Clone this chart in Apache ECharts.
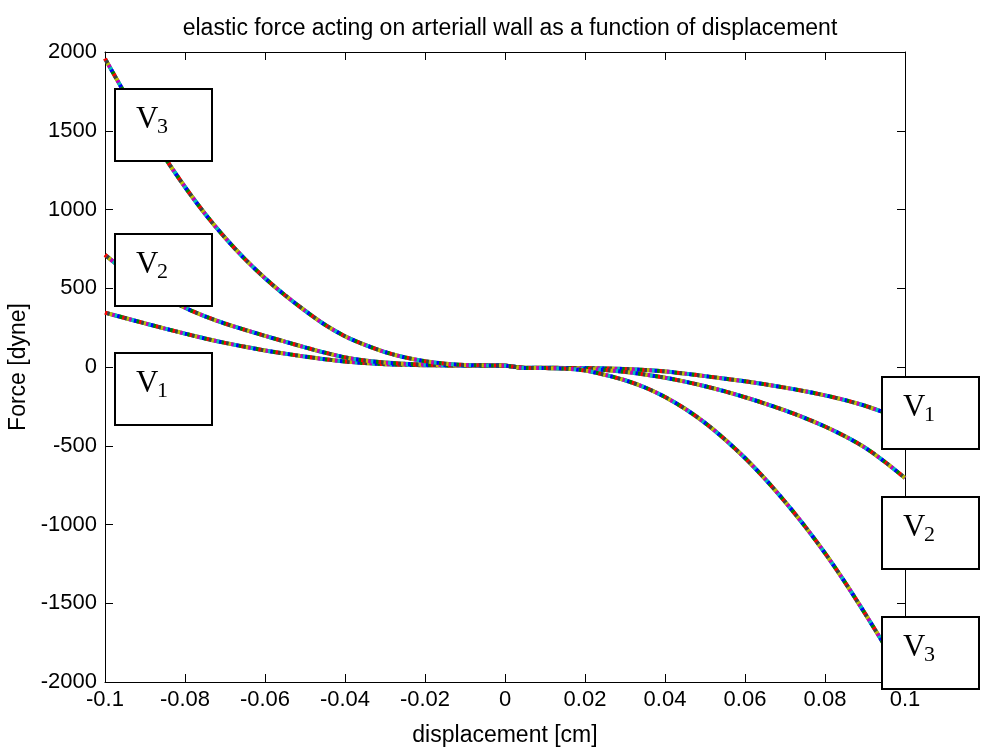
<!DOCTYPE html>
<html>
<head>
<meta charset="utf-8">
<script src="https://cdn.jsdelivr.net/npm/echarts@6/dist/echarts.min.js"></script>
<style>
html,body{margin:0;padding:0;background:#fff;}
#chart{width:981px;height:751px;}
</style>
</head>
<body>
<div id="chart"></div>
<script>
// ---- data ----
const titleText = 'elastic force acting on arteriall wall as a function of displacement';
const xName = 'displacement [cm]';
const yName = 'Force [dyne]';
const displacement = [-0.100, -0.095, -0.090, -0.085, -0.080, -0.075, -0.070, -0.065, -0.060, -0.055,
  -0.050, -0.045, -0.040, -0.035, -0.030, -0.025, -0.020, -0.015, -0.010, -0.005,
  0.000, 0.005, 0.010, 0.015, 0.020, 0.025, 0.030, 0.035, 0.040, 0.045,
  0.050, 0.055, 0.060, 0.065, 0.070, 0.075, 0.080, 0.085, 0.090, 0.095, 0.100];
const forceV1 = [345, 311, 277, 244, 212, 181, 153, 128, 105, 85,
  66, 49, 35, 25, 18, 14, 11, 10, 9, 9,
  8, -5, -5, -6, -7, -9, -13, -19, -28, -42,
  -58, -74, -91, -110, -131, -154, -180, -210, -246, -290, -333];
const forceV2 = [712, 610, 520, 442, 376, 322, 276, 236, 198, 161,
  125, 91, 61, 41, 28, 20, 15, 12, 11, 10,
  8, -6, -6, -8, -12, -19, -31, -48, -68, -93,
  -122, -155, -192, -232, -276, -324, -378, -440, -512, -603, -705];
const forceV3 = [1958, 1736, 1526, 1328, 1143, 973, 821, 685, 564, 456,
  358, 268, 195, 140, 95, 61, 37, 21, 13, 10,
  8, -6, -7, -10, -22, -50, -84, -130, -190, -265,
  -355, -460, -578, -710, -855, -1012, -1182, -1367, -1565, -1772, -1990];
const xTicks = {min: -0.1, max: 0.1, interval: 0.02};
const yTicks = {min: -2000, max: 2000, interval: 500};
const boxLabels = [
  {main: 'V', sub: '3', side: 'left', slot: 0},
  {main: 'V', sub: '2', side: 'left', slot: 1},
  {main: 'V', sub: '1', side: 'left', slot: 2},
  {main: 'V', sub: '1', side: 'right', slot: 0},
  {main: 'V', sub: '2', side: 'right', slot: 1},
  {main: 'V', sub: '3', side: 'right', slot: 2}
];

// ---- styling ----
const sans = '"Liberation Sans", Arial, Helvetica, sans-serif';
const serif = '"Liberation Serif", "Times New Roman", serif';
const dotColors = ['#ff0000', '#008000', '#0000ff', '#00bfbf', '#bf00bf', '#bfbf00', '#404040'];
const dash = 2.5, period = dash * dotColors.length;

const chart = echarts.init(document.getElementById('chart'), null, {renderer: 'canvas'});

function pairs(ys) { return displacement.map((x, i) => [x, ys[i]]); }
const curves = [forceV1, forceV2, forceV3];
const series = [];
curves.forEach(ys => {
  const d = pairs(ys);
  series.push({
    type: 'line', data: d, symbol: 'none', smooth: 0.3,
    lineStyle: {color: '#3f6f5c', width: 4}, silent: true, z: 2
  });
  dotColors.forEach((c, k) => {
    series.push({
      type: 'line', data: d, symbol: 'none', smooth: 0.3,
      lineStyle: {color: c, width: 4, type: [dash, period - dash], dashOffset: k * dash, cap: 'butt'},
      silent: true, z: 3
    });
  });
});

const plot = {left: 105, top: 52, right: 905, bottom: 682};
const boxW = 97, boxH = 72;
const slotTopsLeft = [89, 234, 353];
const slotTopsRight = [377, 497, 617];
const graphics = [];
boxLabels.forEach(b => {
  const x0 = b.side === 'left' ? 115 : 882;
  const y0 = (b.side === 'left' ? slotTopsLeft : slotTopsRight)[b.slot];
  graphics.push({
    type: 'rect', shape: {x: x0, y: y0, width: boxW, height: boxH},
    style: {fill: '#fff', stroke: '#000', lineWidth: 2}, z: 100
  });
  graphics.push({
    type: 'text', x: x0 + 21, y: y0 + 31, z: 101,
    style: {text: b.main, font: '31px ' + serif, fill: '#000', textAlign: 'left', textVerticalAlign: 'middle'}
  });
  graphics.push({
    type: 'text', x: x0 + 42, y: y0 + 38, z: 101,
    style: {text: b.sub, font: '22px ' + serif, fill: '#000', textAlign: 'left', textVerticalAlign: 'middle'}
  });
});

const fmtX = v => String(+v.toFixed(2));
const fmtY = v => String(Math.round(v));
const baseX = {
  type: 'value', min: xTicks.min, max: xTicks.max, interval: xTicks.interval,
  axisLine: {show: true, onZero: false, lineStyle: {color: '#000', width: 1}},
  axisTick: {show: true, inside: true, length: 8, lineStyle: {color: '#000'}},
  splitLine: {show: false}
};
const baseY = {
  type: 'value', min: yTicks.min, max: yTicks.max, interval: yTicks.interval,
  axisLine: {show: true, onZero: false, lineStyle: {color: '#000', width: 1}},
  axisTick: {show: true, inside: true, length: 8, lineStyle: {color: '#000'}},
  splitLine: {show: false}
};

chart.setOption({
  animation: false,
  backgroundColor: '#fff',
  title: {
    text: titleText, left: 505, top: 12, textAlign: 'center',
    textStyle: {fontSize: 23, fontWeight: 'normal', fontFamily: sans, color: '#000'}
  },
  grid: {left: plot.left, top: plot.top, right: 981 - plot.right, bottom: 751 - plot.bottom,
    containLabel: false, outerBoundsMode: 'none'},
  xAxis: [
    Object.assign({}, baseX, {
      position: 'bottom',
      axisLabel: {show: true, formatter: fmtX, fontSize: 22, fontFamily: sans, color: '#000', margin: 7},
      name: xName, nameLocation: 'middle', nameGap: 42,
      nameTextStyle: {fontSize: 23, fontFamily: sans, color: '#000'}
    }),
    Object.assign({}, baseX, {position: 'top', axisLabel: {show: false}})
  ],
  yAxis: [
    Object.assign({}, baseY, {
      position: 'left',
      axisLabel: {show: true, formatter: fmtY, fontSize: 22, fontFamily: sans, color: '#000', margin: 8},
      name: yName, nameLocation: 'middle', nameGap: 65, nameRotate: 90,
      nameTextStyle: {fontSize: 23, fontFamily: sans, color: '#000'}
    }),
    Object.assign({}, baseY, {position: 'right', axisLabel: {show: false}})
  ],
  series: series,
  graphic: graphics
});
</script>
</body>
</html>
